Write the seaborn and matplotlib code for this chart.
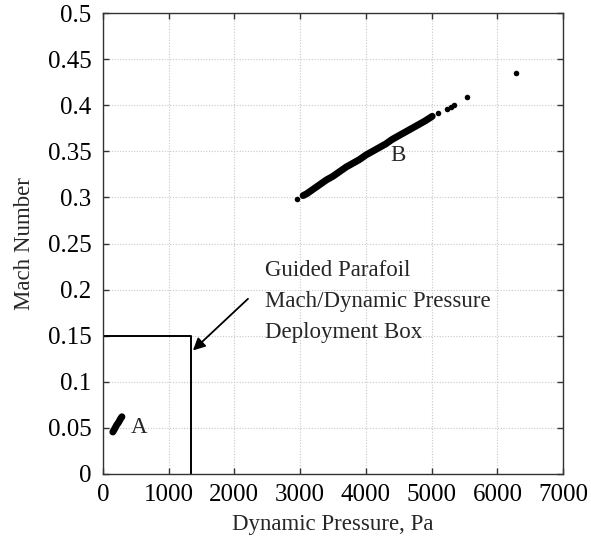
import numpy as np
import pandas as pd
import matplotlib
matplotlib.use("Agg")
import matplotlib.pyplot as plt
import seaborn as sns

# Region A: low-speed trajectory points (dynamic pressure in Pa, Mach number)
a_q = [152, 180, 210, 240, 270, 290]
a_mach = [0.0455, 0.049, 0.053, 0.056, 0.060, 0.062]

# Region B: dense trajectory stretch
b_q = [3045, 3100, 3200, 3300, 3400, 3500, 3600, 3700, 3800, 3900, 4000,
       4100, 4200, 4300, 4400, 4500, 4600, 4700, 4800, 4900, 5008]
b_mach = [0.302, 0.304, 0.309, 0.314, 0.319, 0.323, 0.328, 0.333, 0.337, 0.341, 0.346,
          0.350, 0.354, 0.358, 0.363, 0.367, 0.371, 0.375, 0.379, 0.383, 0.388]

# Region B: isolated samples
b_dots_q = [2950, 5100, 5236, 5300, 5340, 5540, 6286]
b_dots_mach = [0.298, 0.392, 0.396, 0.398, 0.400, 0.409, 0.435]

# Parafoil deployment box limits
box_q = [0, 1340, 1340]
box_mach = [0.15, 0.15, 0]

x_ticks = [0, 1000, 2000, 3000, 4000, 5000, 6000, 7000]
y_ticks = [0, 0.05, 0.1, 0.15, 0.2, 0.25, 0.3, 0.35, 0.4, 0.45, 0.5]
y_tick_labels = ["0", "0.05", "0.1", "0.15", "0.2", "0.25", "0.3", "0.35", "0.4", "0.45", "0.5"]

sns.set_theme(style="white")
plt.rcParams["font.family"] = ["Liberation Serif", "DejaVu Serif"]

fig = plt.figure(figsize=(5.91, 5.46), dpi=100)
ax = fig.add_axes([0.174, 0.132, 0.779, 0.844])

line_kw = dict(color="black", linewidth=5, solid_capstyle="round",
               legend=False, sort=False, estimator=None)
sns.lineplot(x=a_q, y=a_mach, ax=ax, **line_kw)
sns.lineplot(x=b_q, y=b_mach, ax=ax, **line_kw)
sns.scatterplot(x=b_dots_q, y=b_dots_mach, ax=ax, color="black", s=16, linewidth=0, legend=False)
sns.lineplot(x=box_q, y=box_mach, ax=ax, color="black", linewidth=1.4,
             sort=False, estimator=None, legend=False)

ax.set_xlim(0, 7000)
ax.set_ylim(0, 0.5)
ax.set_xticks(x_ticks)
ax.set_xticklabels([str(v) for v in x_ticks])
ax.set_yticks(y_ticks)
ax.set_yticklabels(y_tick_labels)

ax.grid(True, color="#c8c8c8", linestyle=(0, (1, 1.5)), linewidth=0.8)
ax.set_axisbelow(True)
for sp in ax.spines.values():
    sp.set_color("#333333")
    sp.set_linewidth(1.0)
ax.tick_params(axis="both", which="both", direction="in", length=4, width=1.0,
               colors="#333333", labelcolor="black", labelsize=18,
               top=True, right=True, bottom=True, left=True)
ax.tick_params(axis="x", pad=7)
ax.tick_params(axis="y", pad=8)

ax.set_xlabel("Dynamic Pressure, Pa", fontsize=16.5, labelpad=6)
ax.set_ylabel("Mach Number", fontsize=16.5, labelpad=9)

ax.text(550, 0.05, "A", fontsize=16.5, ha="center", va="center")
ax.text(4490, 0.345, "B", fontsize=16.5, ha="center", va="center")

ax.text(2466, 0.187, "Guided Parafoil\nMach/Dynamic Pressure\nDeployment Box",
        fontsize=16.5, ha="left", va="center", linespacing=1.62)
ax.annotate("", xy=(1370, 0.134), xytext=(2207, 0.190),
            arrowprops=dict(arrowstyle="-|>", color="black", lw=1.3,
                            mutation_scale=18, shrinkA=0, shrinkB=0))

fig.savefig("out.png", dpi=100, facecolor="white")
